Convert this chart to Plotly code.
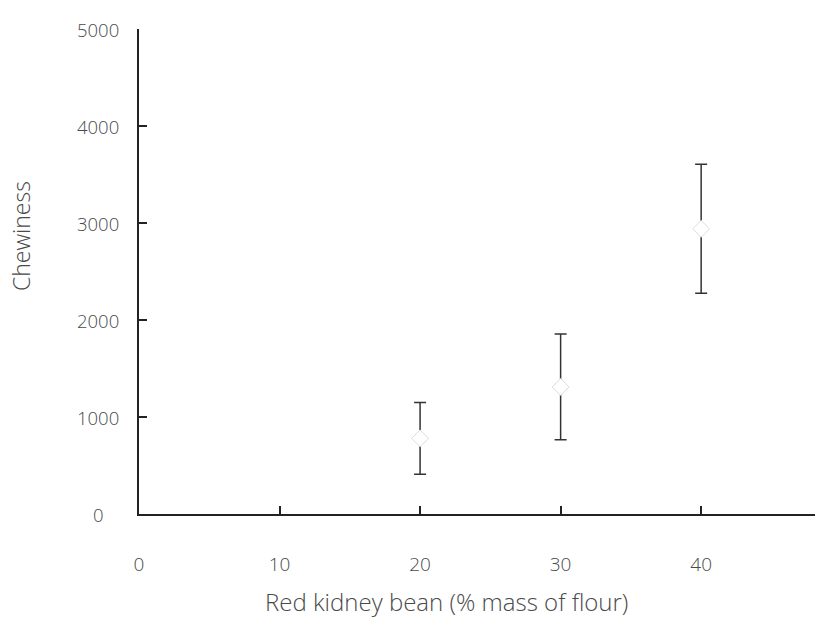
import plotly.graph_objects as go

bean_pct = [20, 30, 40]
chewiness = [780, 1310, 2940]
chew_err = [370, 545, 665]
y_ticks = [0, 1000, 2000, 3000, 4000, 5000]
x_ticks = [0, 10, 20, 30, 40]
x_title = "Red kidney bean (% mass of flour)"
y_title = "Chewiness"

font_family = "Open Sans"
text_color = "#4a4a4a"

fig = go.Figure()
fig.add_trace(go.Scatter(
    x=bean_pct, y=chewiness, mode="markers",
    marker=dict(symbol="diamond", size=13, color="white",
                line=dict(color="#dddddd", width=1)),
    error_y=dict(type="data", array=chew_err, visible=True,
                 color="#333333", thickness=1.5, width=6),
    showlegend=False,
))

annotations = []
for v in y_ticks:
    annotations.append(dict(x=0, xref="paper", y=v, yref="y", xshift=-41,
                            text=str(v), showarrow=False, xanchor="center",
                            yanchor="middle",
                            font=dict(family=font_family, size=18.5, color=text_color, weight=300)))
annotations.append(dict(x=0, xref="paper", y=0.573, yref="paper", xshift=-118,
                        text=y_title, textangle=-90, showarrow=False,
                        xanchor="center", yanchor="middle",
                        font=dict(family=font_family, size=23, color=text_color, weight=300)))
annotations.append(dict(x=0.455, xref="paper", y=0, yref="paper", yshift=-87,
                        text=x_title, showarrow=False,
                        xanchor="center", yanchor="middle",
                        font=dict(family=font_family, size=24, color=text_color, weight=300)))

fig.update_layout(
    width=815, height=620,
    margin=dict(l=139, r=0, t=29, b=106),
    paper_bgcolor="white", plot_bgcolor="white",
    xaxis=dict(range=[0, 48.1], tickvals=x_ticks, ticks="inside", ticklen=8,
               tickcolor="#222222", tickwidth=1.8,
               showline=True, linecolor="#222222", linewidth=2,
               showgrid=False, zeroline=False, ticklabelstandoff=32,
               tickfont=dict(family=font_family, size=19, color=text_color, weight=300)),
    yaxis=dict(range=[0, 5000], tickvals=y_ticks, ticks="inside", ticklen=8,
               tickcolor="#222222", tickwidth=1.8, showticklabels=False,
               showline=True, linecolor="#222222", linewidth=2,
               showgrid=False, zeroline=False),
    annotations=annotations,
)

fig.write_html("out.html")
